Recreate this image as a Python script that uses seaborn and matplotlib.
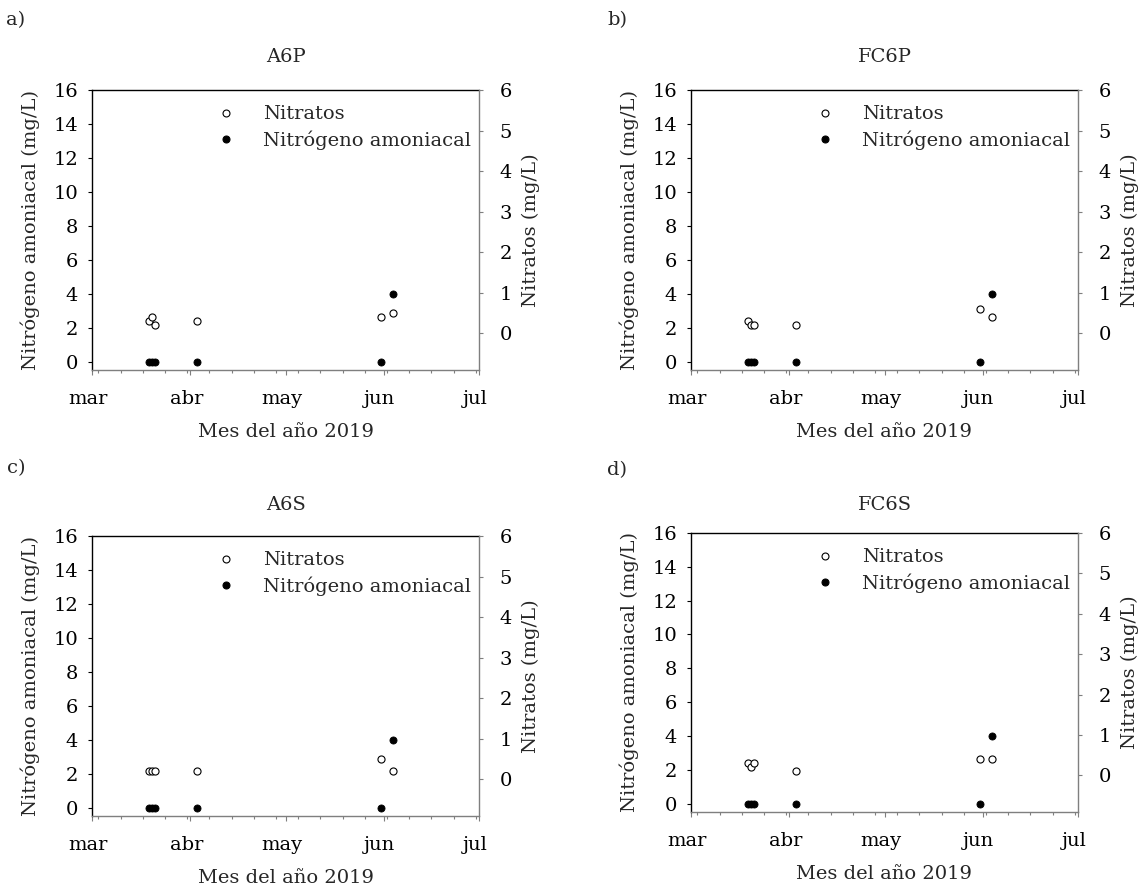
import matplotlib
matplotlib.use("Agg")
import matplotlib.pyplot as plt
import matplotlib.dates as mdates
import matplotlib.transforms as mtransforms
from matplotlib.lines import Line2D
from matplotlib.ticker import FuncFormatter, MultipleLocator
import pandas as pd
import seaborn as sns

# Sampling dates (2019)
fechas = ["2019-03-19", "2019-03-20", "2019-03-21", "2019-04-03", "2019-05-31", "2019-06-04"]

# Stations
sitios = ["A6P", "FC6P", "A6S", "FC6S"]
letras = ["a)", "b)", "c)", "d)"]

# Ammonia nitrogen (mg/L), left axis
amoniacal_A6P = [0, 0, 0, 0, 0, 4]
amoniacal_FC6P = [0, 0, 0, 0, 0, 4]
amoniacal_A6S = [0, 0, 0, 0, 0, 4]
amoniacal_FC6S = [0, 0, 0, 0, 0, 4]

# Nitrates (mg/L), right axis
nitratos_A6P = [0.3, 0.4, 0.2, 0.3, 0.4, 0.5]
nitratos_FC6P = [0.3, 0.2, 0.2, 0.2, 0.6, 0.4]
nitratos_A6S = [0.2, 0.2, 0.2, 0.2, 0.5, 0.2]
nitratos_FC6S = [0.3, 0.2, 0.3, 0.1, 0.4, 0.4]

amoniacal = [amoniacal_A6P, amoniacal_FC6P, amoniacal_A6S, amoniacal_FC6S]
nitratos = [nitratos_A6P, nitratos_FC6P, nitratos_A6S, nitratos_FC6S]

meses = {3: "mar", 4: "abr", 5: "may", 6: "jun", 7: "jul"}

W, H = 1141, 892
# panel boxes in pixels: left, top, right, bottom
cajas = [(92, 90, 479, 370), (691, 90, 1078, 370),
         (92, 536, 479, 816), (691, 533, 1078, 812)]
# title y and letter position (pixels)
titulo_y = [57, 57, 505, 505]
letra_xy = [(16, 20), (617, 20), (16, 468), (617, 470)]

sns.set_theme(style="white")
plt.rcParams["font.family"] = ["DejaVu Serif"]
plt.rcParams["font.size"] = 14

GRIS = "#7f7f7f"

fig = plt.figure(figsize=(W / 100, H / 100), dpi=100)
desplaza = mtransforms.ScaledTranslation(-4 / 100, 0, fig.dpi_scale_trans)

for i, sitio in enumerate(sitios):
    l, t, r, b = cajas[i]
    ax = fig.add_axes([l / W, 1 - b / H, (r - l) / W, (b - t) / H])
    ax2 = ax.twinx()

    df = pd.DataFrame({"fecha": pd.to_datetime(fechas),
                       "amoniacal": amoniacal[i],
                       "nitratos": nitratos[i]})

    sns.scatterplot(data=df, x="fecha", y="amoniacal", ax=ax, color="black",
                    edgecolor="black", s=26, linewidth=0.6, legend=False, zorder=3)
    sns.scatterplot(data=df, x="fecha", y="nitratos", ax=ax2, color="white",
                    edgecolor="black", s=26, linewidth=0.8, legend=False, zorder=3)

    ax.set_xlim(pd.Timestamp("2019-03-01"), pd.Timestamp("2019-07-01"))
    ax.set_ylim(-0.5, 16)
    ax2.set_ylim(-0.91, 6)
    ax.yaxis.set_major_locator(MultipleLocator(2))
    ax2.set_yticks([0, 1, 2, 3, 4, 5, 6])

    ax.xaxis.set_major_locator(mdates.MonthLocator())
    ax.xaxis.set_minor_locator(mdates.WeekdayLocator(byweekday=mdates.SU))
    ax.xaxis.set_major_formatter(FuncFormatter(
        lambda v, p: meses.get(mdates.num2date(v).month, "")))

    for s in ["top", "left"]:
        ax.spines[s].set_color("black")
        ax.spines[s].set_linewidth(1.0)
    ax.spines["bottom"].set_color(GRIS)
    ax.spines["bottom"].set_linewidth(1.0)
    ax.spines["right"].set_visible(False)
    for s in ["top", "left", "bottom"]:
        ax2.spines[s].set_visible(False)
    ax2.spines["right"].set_color(GRIS)
    ax2.spines["right"].set_linewidth(1.0)

    ax.tick_params(axis="y", which="major", left=True, direction="out",
                   length=3, width=0.8, color="black", pad=7, labelsize=14,
                   labelcolor="black")
    ax.tick_params(axis="x", which="major", bottom=True, direction="out",
                   length=3.5, width=0.8, color=GRIS, pad=11, labelsize=14,
                   labelcolor="black")
    ax.tick_params(axis="x", which="minor", bottom=True, direction="out",
                   length=1.8, width=0.8, color=GRIS)
    ax2.tick_params(axis="y", which="major", right=True, direction="out",
                    length=3, width=0.8, color=GRIS, pad=12, labelsize=14,
                    labelcolor="black")

    ax.set_xlabel("Mes del año 2019", fontsize=14)
    ax.xaxis.set_label_coords(0.5, -0.19)
    ax.set_ylabel("Nitrógeno amoniacal (mg/L)", fontsize=14)
    ax.yaxis.set_label_coords(-0.135, 0.5)
    ax2.set_ylabel("Nitratos (mg/L)", fontsize=14)
    ax2.yaxis.set_label_coords(1.11, 0.5)

    marcas = [Line2D([], [], marker="o", ls="", mfc="white", mec="black", ms=5, mew=0.8),
              Line2D([], [], marker="o", ls="", mfc="black", mec="black", ms=5, mew=0.8)]
    ax2.legend(marcas, ["Nitratos", "Nitrógeno amoniacal"], loc="upper left",
               bbox_to_anchor=(0.32, 0.945), frameon=False, borderaxespad=0,
               borderpad=0, handlelength=1.0, handletextpad=1.45,
               labelspacing=0.35, fontsize=14)

    fig.text((l + r) / 2 / W, 1 - titulo_y[i] / H, sitio, ha="center",
             va="center", fontsize=14)
    lx, ly = letra_xy[i]
    fig.text(lx / W, 1 - ly / H, letras[i], ha="center", va="center", fontsize=14)

    # month names sit slightly left of their ticks
    fig.canvas.draw()
    for etiqueta in ax.get_xticklabels():
        etiqueta.set_transform(etiqueta.get_transform() + desplaza)

fig.savefig("out.png", dpi=100, facecolor="white")
